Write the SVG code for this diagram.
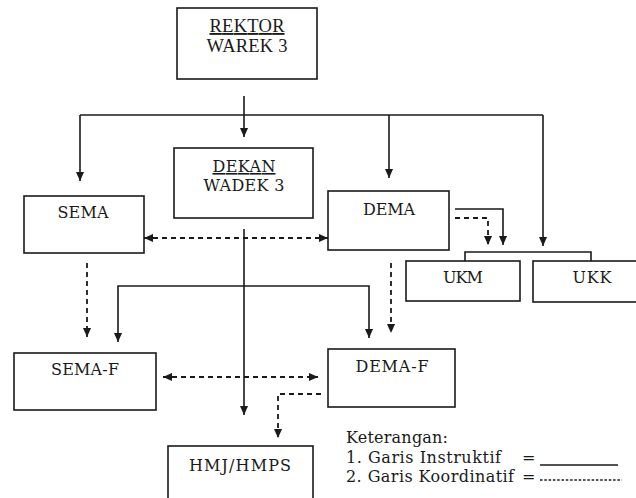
<svg xmlns="http://www.w3.org/2000/svg" width="636" height="498" viewBox="0 0 636 498">
<style>
.box{fill:#fff;stroke:#1a1a1a;stroke-width:1.6}
.ln{fill:none;stroke:#1a1a1a;stroke-width:1.6}
.ds{fill:none;stroke:#1a1a1a;stroke-width:1.8;stroke-dasharray:5 4}
.t{font-family:"DejaVu Serif","Liberation Serif",serif;font-size:16px;fill:#1a1a1a;text-anchor:middle}
.tr{font-family:"Liberation Serif",serif;font-size:18.5px;fill:#1a1a1a;text-anchor:middle}
.lg{font-family:"DejaVu Serif","Liberation Serif",serif;font-size:16px;fill:#1a1a1a}
</style>
<defs>
<marker id="ah" viewBox="0 0 10 10" refX="10" refY="5" markerWidth="9" markerHeight="9" markerUnits="userSpaceOnUse" orient="auto-start-reverse">
<path d="M0,0.5 L10,5 L0,9.5 z" fill="#1a1a1a"/>
</marker>
</defs>
<rect width="636" height="498" fill="#fff"/>
<g id="connectors">
<path class="ln" d="M244,96 V137" marker-end="url(#ah)"/>
<path class="ln" d="M80,115 H543"/>
<path class="ln" d="M80,115 V181" marker-end="url(#ah)"/>
<path class="ln" d="M389,115 V178" marker-end="url(#ah)"/>
<path class="ln" d="M543,115 V246" marker-end="url(#ah)"/>
<path class="ln" d="M244,229 V415" marker-end="url(#ah)"/>
<path class="ln" d="M118,342 V286 H369 V338" marker-start="url(#ah)" marker-end="url(#ah)"/>
<path class="ln" d="M455,209 H503 V245" marker-end="url(#ah)"/>
<path class="ln" d="M465,261 V252 H591 V261"/>
<path class="ds" d="M455,218 H488 V245" stroke-width="1.4" marker-end="url(#ah)"/>
<path class="ds" d="M144,238 H328" marker-start="url(#ah)" marker-end="url(#ah)"/>
<path class="ds" d="M87,263 V337" marker-end="url(#ah)"/>
<path class="ds" d="M391,263 V333" marker-end="url(#ah)"/>
<path class="ds" d="M163,377 H318" marker-start="url(#ah)" marker-end="url(#ah)"/>
<path class="ds" d="M321,394 H278 V438" stroke-width="1.5" marker-end="url(#ah)"/>
</g>
<g id="rektor">
<rect class="box" x="177" y="8" width="140" height="71"/>
<text class="tr" x="247" y="32" text-decoration="underline" textLength="75">REKTOR</text>
<text class="tr" x="247" y="52" textLength="81">WAREK 3</text>
</g>
<g id="dekan">
<rect class="box" x="174" y="148" width="139" height="70"/>
<text class="t" x="244" y="172" text-decoration="underline" textLength="63">DEKAN</text>
<text class="t" x="244" y="191" textLength="81">WADEK 3</text>
</g>
<g id="sema">
<rect class="box" x="24" y="196" width="120" height="57"/>
<text class="t" x="83" y="218" textLength="51">SEMA</text>
</g>
<g id="dema">
<rect class="box" x="328" y="191" width="121" height="59"/>
<text class="t" x="389" y="215" textLength="52">DEMA</text>
</g>
<g id="ukm">
<rect class="box" x="406" y="261" width="114" height="40"/>
<text class="t" x="463" y="283" textLength="40">UKM</text>
</g>
<g id="ukk">
<rect class="box" x="533" y="261" width="112" height="41"/>
<text class="t" x="592" y="283" textLength="39">UKK</text>
</g>
<g id="sema-f">
<rect class="box" x="14" y="353" width="142" height="57"/>
<text class="t" x="85" y="375" textLength="68">SEMA-F</text>
</g>
<g id="dema-f">
<rect class="box" x="328" y="349" width="127" height="58"/>
<text class="t" x="392" y="372" textLength="73">DEMA-F</text>
</g>
<g id="hmj">
<rect class="box" x="168" y="446" width="145" height="60"/>
<text class="t" x="240" y="471" textLength="102">HMJ/HMPS</text>
</g>
<g id="legend">
<text class="lg" x="346" y="443" textLength="102">Keterangan:</text>
<text class="lg" x="346" y="463" textLength="155">1. Garis Instruktif</text>
<text class="lg" x="346" y="482" textLength="168">2. Garis Koordinatif</text>
<text class="lg" x="522" y="463" font-size="13">=</text>
<text class="lg" x="522" y="482" font-size="13">=</text>
<path class="ln" d="M540,465 H618" stroke-width="1.2"/>
<path class="ln" d="M540,480 H622" stroke-width="1.2" stroke-dasharray="2.5 1.8"/>
</g>
</svg>
